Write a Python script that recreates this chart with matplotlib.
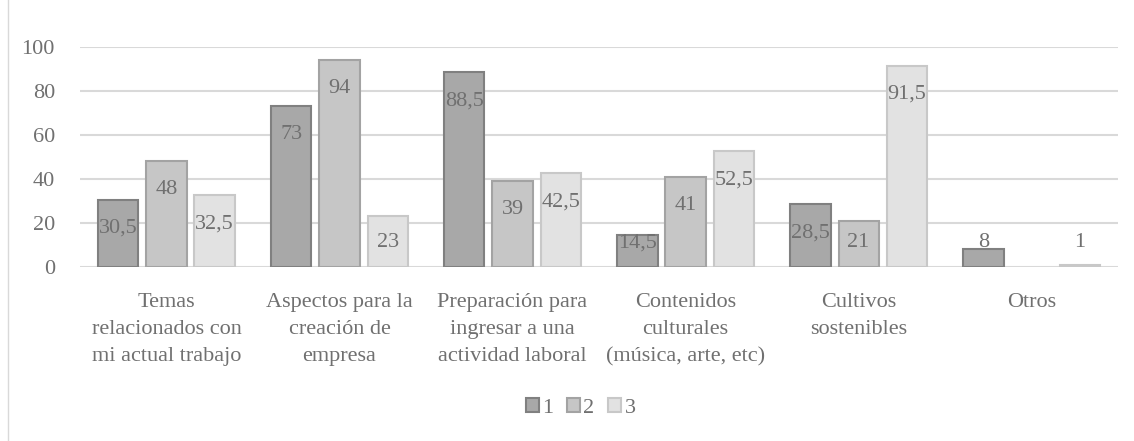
import matplotlib
matplotlib.use("Agg")
import matplotlib.pyplot as plt
import numpy as np

# datos
categorias = ["Temas\nrelacionados con\nmi actual trabajo",
              "Aspectos para la\ncreación de\nempresa",
              "Preparación para\ningresar a una\nactividad laboral",
              "Contenidos\nculturales\n(música, arte, etc)",
              "Cultivos\nsostenibles",
              "Otros"]
serie1 = [30.5, 73, 88.5, 14.5, 28.5, 8]
serie2 = [48, 94, 39, 41, 21, None]
serie3 = [32.5, 23, 42.5, 52.5, 91.5, 1]
nombres = ["1", "2", "3"]
yticks = [0, 20, 40, 60, 80, 100]

plt.rcParams['font.family'] = ['Liberation Serif', 'DejaVu Serif']
gris_texto = '#707070'
tam = 16

fig = plt.figure(figsize=(11.34, 4.41), dpi=100, facecolor='w')
ax = fig.add_axes([0.0705, 0.3946, 0.9155, 0.4988])

x = np.arange(len(categorias))
ancho = 0.232
paso = 0.278
rellenos = ['#a8a8a8', '#c6c6c6', '#e2e2e2']
bordes = ['#808080', '#a3a3a3', '#c8c8c8']

for k, serie in enumerate([serie1, serie2, serie3]):
    vals = [np.nan if v is None else v for v in serie]
    pos = x + (k - 1) * paso
    ax.bar(pos, vals, width=ancho, color=rellenos[k], edgecolor=bordes[k],
           linewidth=1.5, label=nombres[k], zorder=3)
    for p, v in zip(pos, serie):
        if v is None:
            continue
        y = max(v - 13.0, 11.0)
        txt = ('%g' % v).replace('.', ',')
        ax.text(p, y, txt, ha='center', va='center', fontsize=tam,
                color=gris_texto, zorder=4)

ax.set_ylim(0, 100)
ax.set_xlim(-0.5, len(categorias) - 0.5)
ax.set_yticks(yticks)
ax.set_yticklabels([str(t) for t in yticks], fontsize=tam, color=gris_texto)
ax.set_xticks(x)
ax.set_xticklabels(categorias, fontsize=tam, color=gris_texto, linespacing=1.55,
                   va='top')
ax.tick_params(axis='x', length=0, pad=19)
ax.tick_params(axis='y', length=0, pad=18)
ax.yaxis.grid(True, color='#d9d9d9', linewidth=1.5, zorder=0)
for s in ax.spines.values():
    s.set_visible(False)

leg = fig.legend(*ax.get_legend_handles_labels(), loc='center',
                 bbox_to_anchor=(0.512, 1 - 408 / 441), ncol=3, frameon=False,
                 fontsize=tam, handlelength=0.6, handleheight=0.6, handletextpad=0.15,
                 columnspacing=0.6, labelcolor=gris_texto)

# borde izquierdo del area del grafico
fig.add_artist(plt.Line2D([8 / 1134, 8 / 1134], [0.0, 1.0], color='#d9d9d9',
                          linewidth=1.0, transform=fig.transFigure))

fig.savefig('out.png', dpi=100, facecolor='w')
